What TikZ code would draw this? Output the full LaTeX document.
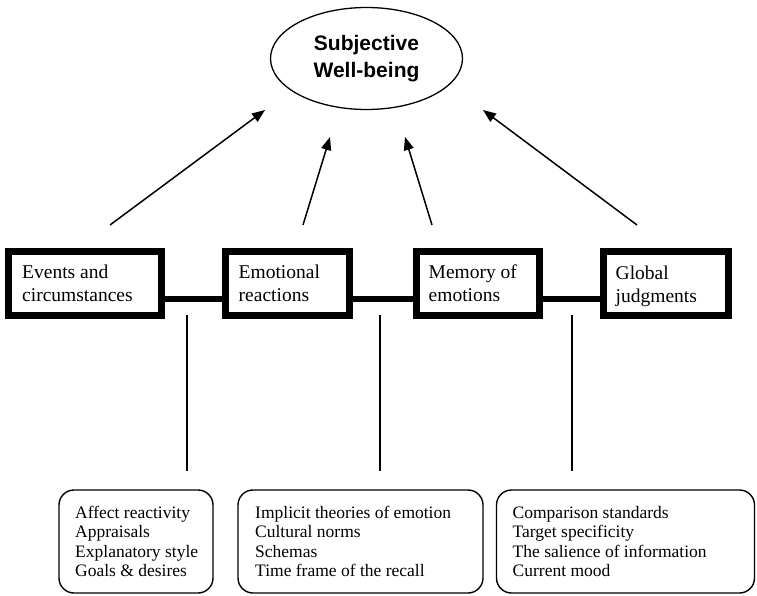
\documentclass[tikz,border=0pt]{standalone}
\usepackage{fontspec}
\setmainfont{Liberation Serif}
\newfontfamily\headfont{Liberation Sans}
\usetikzlibrary{arrows.meta,calc,shapes.geometric}
\begin{document}
\begin{tikzpicture}[x=1pt,y=-1pt,
  topbox/.style={draw,line width=7pt,outer sep=0pt,inner sep=0pt,minimum height=64pt},
  toptext/.style={anchor=west,inner sep=0pt,align=left,font=\fontsize{19.5}{23}\selectfont},
  botbox/.style={draw,line width=1.4pt,rounded corners=15pt,outer sep=0pt,inner sep=0pt,minimum height=103pt},
  bottext/.style={anchor=west,inner sep=0pt,align=left,font=\fontsize{17.5}{19.5}\selectfont},
  link/.style={line width=6pt},
  feeder/.style={line width=1.5pt,-{Triangle[length=13pt,width=10pt]}},
  stem/.style={line width=1.3pt}]
\useasboundingbox (0,0) rectangle (757,596);
% ellipse
\node[draw,ellipse,line width=1.3pt,minimum width=192pt,minimum height=102pt,inner sep=0pt,
  align=center,font=\headfont\bfseries\fontsize{21}{27}\selectfont] (swb) at (366.5,58.5) {Subjective\\Well-being};
% top boxes
\node[topbox,minimum width=153pt] (b1) at (85,283.5) {};
\node[topbox,minimum width=124pt] (b2) at (287.5,283.5) {};
\node[topbox,minimum width=123pt] (b3) at (478,283.5) {};
\node[topbox,minimum width=125pt] (b4) at (666,283.5) {};
\node[toptext] (t1) at ($(b1.west)+(13.5,0)$) {Events and\\circumstances};
\node[toptext] (t2) at ($(b2.west)+(13,0)$) {Emotional\\reactions};
\node[toptext] (t3) at ($(b3.west)+(12,0)$) {Memory of\\emotions};
\node[toptext] (t4) at ($(b4.west)+(12,2.5)$) {Global\\judgments};
% links between boxes
\draw[link] ($(b1.east)+(0,15)$) -- ($(b2.west)+(0,15)$);
\draw[link] ($(b2.east)+(0,15)$) -- ($(b3.west)+(0,15)$);
\draw[link] ($(b3.east)+(0,15)$) -- ($(b4.west)+(0,15)$);
% arrows
\coordinate (a1s) at (110,225); \coordinate (a1e) at (265,110);
\coordinate (a2s) at (303,225); \coordinate (a2e) at (330,137);
\coordinate (a3s) at (432,225); \coordinate (a3e) at (405,137);
\coordinate (a4s) at (637,225); \coordinate (a4e) at (483,110);
\draw[feeder] (a1s) -- (a1e);
\draw[feeder] (a2s) -- (a2e);
\draw[feeder] (a3s) -- (a3e);
\draw[feeder] (a4s) -- (a4e);
% bottom boxes
\node[botbox,minimum width=154pt] (c1) at (136,541.5) {};
\node[botbox,minimum width=245pt] (c2) at (360.5,541.5) {};
\node[botbox,minimum width=258pt] (c3) at (625.5,541.5) {};
\node[bottext] (u1) at ($(c1.west)+(16,0)$) {Affect reactivity\\Appraisals\\Explanatory style\\Goals \& desires};
\node[bottext] (u2) at ($(c2.west)+(17,0)$) {Implicit theories of emotion\\Cultural norms\\Schemas\\Time frame of the recall};
\node[bottext] (u3) at ($(c3.west)+(16,0)$) {Comparison standards\\Target specificity\\The salience of information\\Current mood};
% stems
\coordinate (s1t) at (187,315); \coordinate (s1b) at (187,471);
\coordinate (s2t) at (380,315); \coordinate (s2b) at (380,471);
\coordinate (s3t) at (572,315); \coordinate (s3b) at (572,471);
\draw[stem] (s1t) -- (s1b);
\draw[stem] (s2t) -- (s2b);
\draw[stem] (s3t) -- (s3b);
\end{tikzpicture}
\end{document}
